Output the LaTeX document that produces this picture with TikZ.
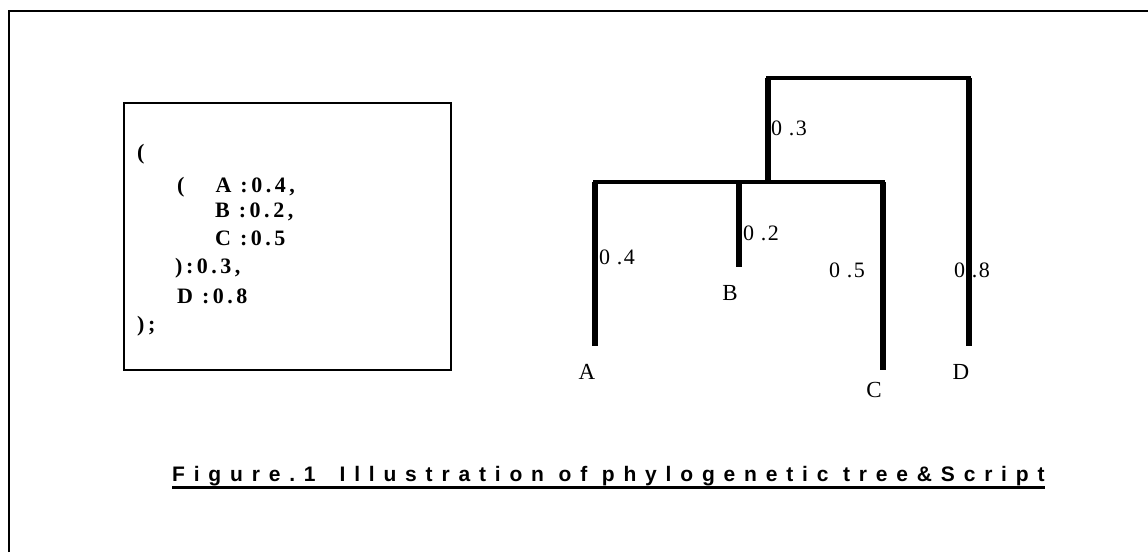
\documentclass[tikz,border=0pt]{standalone}
\usepackage{fontspec}
\setmainfont{Liberation Serif}
\newfontfamily\codefont[LetterSpace=16]{Liberation Serif}
\newfontfamily\lenfont[LetterSpace=6]{Liberation Serif}
\newfontfamily\capfont[LetterSpace=42]{Liberation Sans}
\begin{document}
\begin{tikzpicture}[x=1pt,y=-1pt,
    code/.style={anchor=base west, inner sep=0pt, font=\codefont\bfseries\fontsize{22}{24}\selectfont},
    brlen/.style={inner sep=0pt, font=\lenfont\fontsize{22}{24}\selectfont},
    leaf/.style={inner sep=0pt, font=\fontsize{23}{26}\selectfont},
    vbar/.style={line width=5.5pt},
    hbar/.style={line width=4pt, line cap=rect}]
    \useasboundingbox (0,0) rectangle (1148,552);
    % page frame, only top and left edge show
    \draw[line width=2.5pt] (9,552) -- (9,11) -- (1148,11);
    % newick script
    \draw[line width=2pt] (124,103) rectangle (451,370);
    \node[code] (s1) at (137,159) {(};
    \node[code] (s2) at (177,192) {(\hspace{31pt}A :0.4,};
    \node[code] (s3) at (215,217) {B :0.2,};
    \node[code] (s4) at (215,245) {C :0.5};
    \node[code] (s5) at (175,273) {):0.3,};
    \node[code] (s6) at (177,303) {D :0.8};
    \node[code] (s7) at (137,331) {);};
    % branch lengths
    \node[brlen] (l3) at (789,128) {0 .3};
    \node[brlen] (l2) at (761,233) {0 .2};
    \node[brlen] (l4) at (617,257) {0 .4};
    \node[brlen] (l5) at (847,270) {0 .5};
    \node[brlen] (l8) at (972,270) {0 .8};
    % tree
    \coordinate (rootL) at (768,78);
    \coordinate (rootR) at (969,78);
    \coordinate (inner) at (768,182);
    \coordinate (cladeL) at (595,182);
    \coordinate (cladeB) at (739,182);
    \coordinate (cladeR) at (883,182);
    \coordinate (tipA) at (595,346);
    \coordinate (tipB) at (739,267);
    \coordinate (tipC) at (883,370);
    \coordinate (tipD) at (969,346);
    \draw[hbar] (rootL) -- (rootR);
    \draw[hbar] (cladeL) -- (cladeR);
    \draw[vbar] (rootL) -- (inner);
    \draw[vbar] (rootR) -- (tipD);
    \draw[vbar] (cladeL) -- (tipA);
    \draw[vbar] (cladeB) -- (tipB);
    \draw[vbar] (cladeR) -- (tipC);
    \node[leaf] (A) at (587,372) {A};
    \node[leaf] (B) at (730,293) {B};
    \node[leaf] (C) at (874,390) {C};
    \node[leaf] (D) at (961,372) {D};
    % caption
    \node[anchor=base west, inner sep=0pt, font=\capfont\bfseries\fontsize{21}{24}\selectfont] (caption) at (172,481)
        {Figure.1\hspace{24pt}Illustration of phylogenetic tree\&Script};
    \draw[line width=3pt] ([yshift=-6pt]caption.base west) -- ([yshift=-6pt]caption.base east);
\end{tikzpicture}
\end{document}
